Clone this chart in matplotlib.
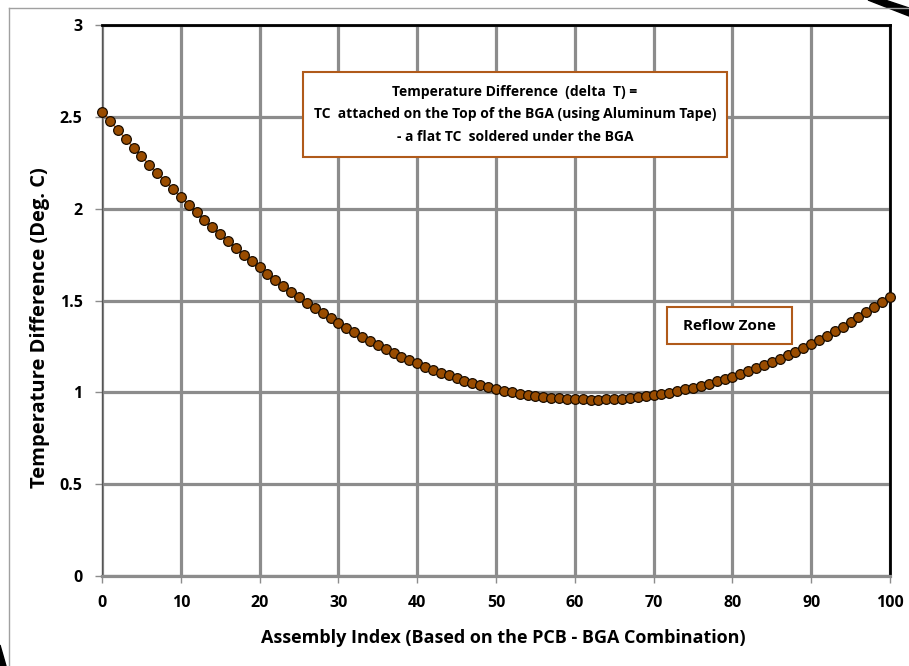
import matplotlib
matplotlib.use("Agg")
import matplotlib.pyplot as plt
from matplotlib.patches import Polygon, Rectangle
from matplotlib.lines import Line2D

plt.rcParams['font.family'] = ['Open Sans', 'DejaVu Sans']

x_index = list(range(0, 101))
delta_t = [
    2.528, 2.478, 2.429, 2.380, 2.333, 2.286, 2.239, 2.194, 2.150, 2.106,
    2.063, 2.021, 1.980, 1.940, 1.900, 1.861, 1.823, 1.786, 1.750, 1.714,
    1.680, 1.646, 1.613, 1.581, 1.549, 1.519, 1.489, 1.460, 1.432, 1.404,
    1.378, 1.352, 1.327, 1.303, 1.280, 1.257, 1.236, 1.215, 1.195, 1.176,
    1.157, 1.140, 1.123, 1.107, 1.092, 1.078, 1.064, 1.052, 1.040, 1.029,
    1.019, 1.009, 1.001, 0.993, 0.986, 0.980, 0.975, 0.970, 0.967, 0.964,
    0.962, 0.961, 0.960, 0.960, 0.962, 0.963, 0.966, 0.970, 0.974, 0.979,
    0.985, 0.991, 0.999, 1.007, 1.016, 1.026, 1.036, 1.047, 1.059, 1.072,
    1.086, 1.100, 1.115, 1.131, 1.148, 1.165, 1.183, 1.203, 1.222, 1.243,
    1.264, 1.286, 1.309, 1.333, 1.357, 1.383, 1.409, 1.435, 1.463, 1.491,
    1.520,
]
x_ticks = [0, 10, 20, 30, 40, 50, 60, 70, 80, 90, 100]
y_ticks = [0, 0.5, 1, 1.5, 2, 2.5, 3]
y_tick_labels = ['0', '0.5', '1', '1.5', '2', '2.5', '3']

W, H = 909, 666
fig = plt.figure(figsize=(W / 100, H / 100), dpi=100)
ax = fig.add_axes([102 / W, 1 - 576 / H, (890 - 102) / W, (576 - 25) / H])

ax.set_xlim(0, 100)
ax.set_ylim(0, 3)
ax.set_xticks(x_ticks)
ax.set_yticks(y_ticks)
ax.set_yticklabels(y_tick_labels)
ax.grid(True, color='#8c8c8c', linewidth=2.3, zorder=0)
ax.set_axisbelow(True)

for s in ['top', 'right']:
    ax.spines[s].set_color('black')
    ax.spines[s].set_linewidth(2.0)
ax.spines['left'].set_color('#555555')
ax.spines['left'].set_linewidth(1.0)
ax.spines['bottom'].set_color('#8c8c8c')
ax.spines['bottom'].set_linewidth(2.3)

ax.tick_params(axis='both', direction='out', length=5, width=1, color='#8c8c8c',
               labelsize=11.5, pad=9)
for lab in ax.get_xticklabels() + ax.get_yticklabels():
    lab.set_fontweight('bold')

ax.plot(x_index, delta_t, color='#e8720c', linewidth=1.0, marker='o',
        markersize=7, markerfacecolor='#994c00', markeredgecolor='#1a0d00',
        markeredgewidth=0.9, zorder=3, clip_on=False)

ax.set_xlabel('Assembly Index (Based on the PCB - BGA Combination)',
              fontsize=13, fontweight='bold')
ax.xaxis.set_label_coords(0.509, -0.097)
ax.set_ylabel('Temperature Difference (Deg. C)', fontsize=14.5,
              fontweight='bold')
ax.yaxis.set_label_coords(-0.066, 0.45)

# annotation boxes (axes-fraction placement)
ax.add_patch(Rectangle((0.2551, 0.7604), 0.538, 0.1543, transform=ax.transAxes,
                       facecolor='white', edgecolor='#b05a1a', linewidth=1.5,
                       zorder=5))
ax.text(0.5241, 0.8376,
        'Temperature Difference  (delta  T) =\n'
        'TC  attached on the Top of the BGA (using Aluminum Tape)\n'
        '- a flat TC  soldered under the BGA',
        transform=ax.transAxes, ha='center', va='center', fontsize=10,
        fontweight='bold', linespacing=1.75, zorder=6)
ax.add_patch(Rectangle((0.717, 0.421), 0.1586, 0.0672, transform=ax.transAxes,
                       facecolor='white', edgecolor='#b05a1a', linewidth=1.5,
                       zorder=5))
ax.text(0.7963, 0.4546, 'Reflow Zone', transform=ax.transAxes, ha='center',
        va='center', fontsize=11, fontweight='bold', zorder=6)

# outer chart border
fig.add_artist(Line2D([9 / W, 1.0], [1 - 8 / H, 1 - 8 / H], color='#a0a0a0',
                      linewidth=1.0, transform=fig.transFigure))
fig.add_artist(Line2D([9 / W, 9 / W], [0, 1 - 8 / H], color='#a0a0a0',
                      linewidth=1.0, transform=fig.transFigure))
# decorative black wedges
fig.add_artist(Polygon([[868 / W, 1.0], [885 / W, 1.0], [909 / W, 1 - 8 / H],
                        [909 / W, 1 - 16 / H]], closed=True, color='black',
                       transform=fig.transFigure))
fig.add_artist(Polygon([[0, 1 - 645 / H], [6 / W, 0], [0, 0]], closed=True,
                       color='black', transform=fig.transFigure))

fig.savefig('out.png', dpi=100)
